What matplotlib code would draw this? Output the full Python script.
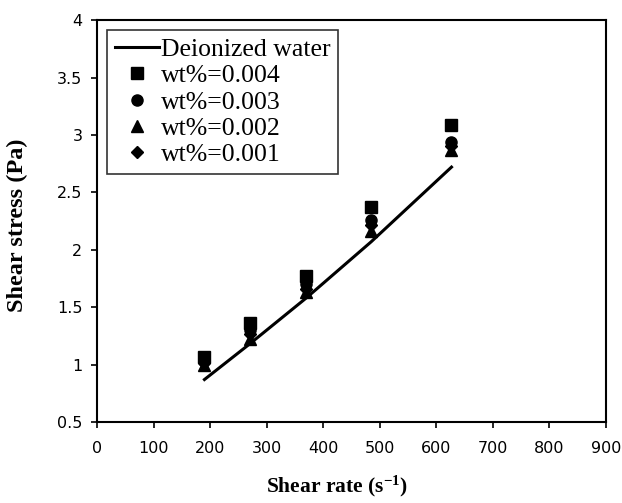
"""Shear stress vs shear rate for deionized water and nanofluid concentrations."""

import matplotlib

matplotlib.use("Agg")

import matplotlib.pyplot as plt

# data
shear_rate = [190, 270, 370, 485, 627]
water = [0.87, 1.18, 1.58, 2.07, 2.72]
wt_004 = [1.07, 1.36, 1.77, 2.37, 3.09]
wt_003 = [1.03, 1.30, 1.70, 2.26, 2.94]
wt_002 = [1.00, 1.22, 1.63, 2.16, 2.87]
wt_001 = [1.01, 1.27, 1.66, 2.22, 2.90]

x_ticks = list(range(0, 901, 100))
y_ticks = [0.5, 1, 1.5, 2, 2.5, 3, 3.5, 4]

plt.rcParams["mathtext.fontset"] = "custom"
plt.rcParams["mathtext.rm"] = "Liberation Serif:bold"
plt.rcParams["mathtext.default"] = "rm"

fig = plt.figure(figsize=(6.22, 5.03), dpi=100)
ax = fig.add_axes([0.156, 0.161, 0.818, 0.799])

ax.plot(shear_rate, water, color="black", lw=2.2, label="Deionized water", zorder=2)
series = [
    (wt_004, "s", "wt%=0.004"),
    (wt_003, "o", "wt%=0.003"),
    (wt_002, "^", "wt%=0.002"),
    (wt_001, "D", "wt%=0.001"),
]
for vals, mk, lab in series:
    ax.plot(shear_rate, vals, ls="none", marker=mk, color="black",
            ms=8 if mk != "D" else 6, label=lab, zorder=3)

ax.set_xlim(0, 900)
ax.set_ylim(0.5, 4)
ax.set_xticks(x_ticks)
ax.set_yticks(y_ticks)
ax.set_yticklabels([f"{v:g}" for v in y_ticks])

for s in ax.spines.values():
    s.set_linewidth(1.5)
ax.tick_params(axis="both", direction="out", length=4.5, width=1.2,
               labelsize=11.5, colors="black")
ax.tick_params(axis="x", pad=9)
ax.tick_params(axis="y", pad=6)

ax.set_xlabel("Shear rate (s$^{-1}$)", family="Liberation Serif",
              fontweight="bold", fontsize=15.5)
ax.set_ylabel("Shear stress (Pa)", family="Liberation Serif",
              fontweight="bold", fontsize=17.5)
ax.xaxis.set_label_coords(0.472, -0.128)
ax.yaxis.set_label_coords(-0.135, 0.49)

leg = ax.legend(loc="upper left", bbox_to_anchor=(0.02, 0.975), borderaxespad=0,
                prop={"family": "Liberation Serif", "size": 18.5},
                frameon=True, fancybox=False, edgecolor="black",
                handlelength=1.7, handletextpad=0.1, labelspacing=0.13,
                borderpad=0.3, numpoints=1)
leg.get_frame().set_linewidth(1.2)

fig.savefig("out.png", dpi=100)
